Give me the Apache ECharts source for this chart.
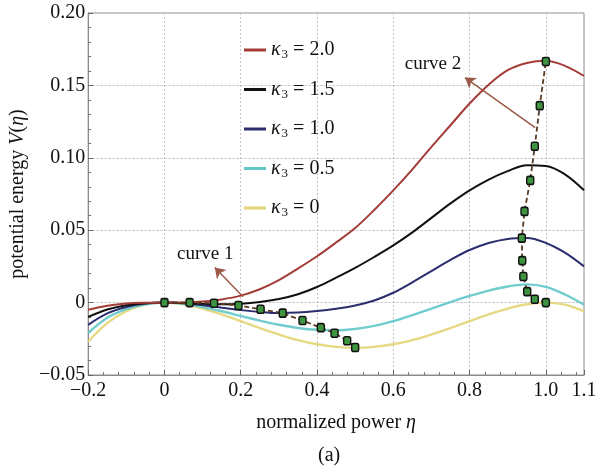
<!DOCTYPE html>
<html>
<head>
<meta charset="utf-8">
<script src="https://cdn.jsdelivr.net/npm/echarts@6/dist/echarts.min.js"></script>
<style>
html,body{margin:0;padding:0;background:#fff;}
#c{width:613px;height:473px;}
</style>
</head>
<body>
<div id="c"></div>
<script>
// ---- data ----
const eta = [-0.2,-0.15,-0.1,-0.05,0,0.05,0.1,0.15,0.2,0.25,0.3,0.35,0.4,0.45,0.5,0.55,0.6,0.65,0.7,0.75,0.8,0.85,0.9,0.95,1.0,1.05,1.1];
const kappa20 = [-0.005,-0.0022,-0.0006,-0.0001,0,0.0001,0.0007,0.0022,0.0048,0.0092,0.0155,0.0235,0.032,0.0415,0.0515,0.064,0.0775,0.092,0.1075,0.1225,0.1375,0.1505,0.1605,0.1655,0.167,0.1635,0.1565];
const kappa15 = [-0.0099,-0.0048,-0.0018,-0.0004,0,-0.0003,-0.0008,-0.0012,-0.0008,0.0004,0.0025,0.0058,0.0108,0.0172,0.024,0.0315,0.0395,0.0485,0.0585,0.0685,0.0775,0.085,0.0908,0.0948,0.0944,0.0886,0.0776];
const kappa10 = [-0.0154,-0.0075,-0.003,-0.0007,0,-0.0005,-0.0018,-0.0035,-0.0052,-0.0065,-0.0072,-0.0069,-0.0058,-0.0042,-0.002,0.0015,0.0068,0.014,0.0218,0.0295,0.0363,0.0412,0.044,0.0446,0.0412,0.0345,0.025];
const kappa05 = [-0.021,-0.0105,-0.0045,-0.0011,0,-0.0009,-0.0031,-0.006,-0.0092,-0.0124,-0.0153,-0.0175,-0.0188,-0.0191,-0.0182,-0.0161,-0.0128,-0.0086,-0.0041,0.0004,0.0046,0.0083,0.0111,0.0126,0.0109,0.0056,-0.0014];
const kappa00 = [-0.027,-0.0142,-0.006,-0.0014,0,-0.0011,-0.0041,-0.0081,-0.0128,-0.0176,-0.022,-0.0259,-0.0288,-0.0306,-0.0312,-0.0306,-0.0288,-0.0259,-0.022,-0.0176,-0.0128,-0.0081,-0.0041,-0.0011,0,-0.0014,-0.006];
const legendLabels = ['2.0','1.5','1.0','0.5','0'];

// curve 1: locus of minima, curve 2: locus of maxima
const curve1Eta = [0,0.066,0.13,0.194,0.252,0.31,0.362,0.41,0.446,0.479,0.5];
const curve1V   = [0,0,-0.0004,-0.002,-0.0046,-0.0073,-0.0124,-0.0173,-0.0212,-0.0263,-0.031];
const curve2Eta = [1.0,0.971,0.951,0.941,0.938,0.937,0.944,0.959,0.971,0.984,1.0];
const curve2V   = [0,0.0023,0.0076,0.018,0.029,0.0445,0.063,0.0844,0.108,0.136,0.1665];

// annotations (data coordinates)
const annText = ['curve 1','curve 2'];
const annEta = [0.107,0.704];
const annV = [0.0337,0.165];
const arrowFrom = [[0.206,0.0041],[0.972,0.1208]];
const arrowTo   = [[0.132,0.0242],[0.788,0.1554]];

// ---- chart ----
const FONT = "'Liberation Serif','DejaVu Serif',serif";
const colors = ['#a43d37','#111111','#2b2d6e','#62c6c9','#e3d576'];
const curves = [kappa20,kappa15,kappa10,kappa05,kappa00];

function minus(v,d){ if(Math.abs(v)<1e-9) return '0'; return (v<0?'\u2212':'')+Math.abs(v).toFixed(d); }

const series = curves.map((arr,k)=>({
  name: 'k'+legendLabels[k],
  type: 'line',
  data: eta.map((x,i)=>[x,arr[i]]),
  showSymbol: false,
  smooth: 0.35,
  lineStyle: {color: colors[k], width: k>=3 ? 2.4 : 2, opacity: k>=3?0.9:1},
  itemStyle: {color: colors[k]},
  z: 2+(4-k)
}));

const markerStyle = {
  type: 'line',
  showSymbol: true,
  symbol: 'roundRect',
  symbolSize: [7,8],
  lineStyle: {color: '#5a3b22', width: 1.8, type: [5,3]},
  itemStyle: {color: '#3f9440', borderColor: '#111', borderWidth: 1.5},
  z: 10
};
series.push(Object.assign({name:'curve1', data: curve1Eta.map((x,i)=>[x,curve1V[i]])}, markerStyle));
series.push(Object.assign({name:'curve2', data: curve2Eta.map((x,i)=>[x,curve2V[i]])}, markerStyle));

series.push({
  name: 'arrows',
  type: 'scatter',
  symbolSize: 0,
  data: [],
  markLine: {
    silent: true,
    symbol: ['none','arrow'],
    symbolSize: 10,
    label: {show:false},
    itemStyle: {color:'#9b5a45'},
    lineStyle: {color:'#9b5a45', width:1.5, type:'solid'},
    data: arrowFrom.map((f,i)=>[{coord:f},{coord:arrowTo[i]}])
  },
  z: 12
});

const chart = echarts.init(document.getElementById('c'), null, {renderer:'canvas'});
chart.setOption({
  animation: false,
  backgroundColor: '#fff',
  grid: {left: 83, right: 29, top: 13, bottom: 98, show: true, borderColor: '#8a8a8a', borderWidth: 1},
  legend: {
    orient: 'vertical',
    left: 239, top: 35,
    itemWidth: 22, itemHeight: 3,
    itemGap: 18,
    icon: 'rect',
    data: series.slice(0,5).map(s=>s.name),
    formatter: n => '{k|\u03ba}{s|3}{t| = ' + n.slice(1) + '}',
    textStyle: {
      fontFamily: FONT, color:'#111',
      rich: {
        k: {fontSize: 20, fontStyle:'italic', fontFamily: FONT},
        s: {fontSize: 13, fontFamily: FONT, padding:[10,0,0,1]},
        t: {fontSize: 20, fontFamily: FONT}
      }
    }
  },
  xAxis: {
    type: 'value', min: -0.2, max: 1.1, interval: 0.2,
    name: 'normalized power {i|\u03b7}',
    nameLocation: 'middle', nameGap: 38,
    nameTextStyle: {fontFamily: FONT, fontSize: 20, color:'#111', rich:{i:{fontStyle:'italic', fontFamily: FONT, fontSize:20}}},
    axisLine: {show:true, onZero:false, lineStyle:{color:'#8a8a8a'}},
    axisTick: {inside: true, length: 5, lineStyle:{color:'#666'}},
    minorTick: {show: true, splitNumber: 5, length: 3, lineStyle:{color:'#777'}},
    axisLabel: {fontFamily: FONT, fontSize: 20, color:'#111', margin: 6, formatter: v=>minus(v,1), showMaxLabel: true},
    splitLine: {show:true, lineStyle:{color:'#c4c4c4', type:[2,2], width:1}}
  },
  yAxis: {
    type: 'value', min: -0.05, max: 0.2, interval: 0.05,
    name: 'potential energy {i|V}({i|\u03b7})',
    nameLocation: 'middle', nameGap: 48,
    nameTextStyle: {fontFamily: FONT, fontSize: 20, color:'#111', rich:{i:{fontStyle:'italic', fontFamily: FONT, fontSize:20}}},
    axisLine: {show:true, onZero:false, lineStyle:{color:'#8a8a8a'}},
    axisTick: {inside: true, length: 5, lineStyle:{color:'#666'}},
    minorTick: {show: true, splitNumber: 5, length: 3, lineStyle:{color:'#777'}},
    axisLabel: {fontFamily: FONT, fontSize: 20, color:'#111', margin: 3, formatter: v=>minus(v,2)},
    splitLine: {show:true, lineStyle:{color:'#cfcfcf', type:[3,1], width:1.2}}
  },
  series: series
});

// annotation texts placed through the axes' own scales
const g = [{
  type: 'text', left: 318, top: 446,
  style: {text: '(a)', font: '20px ' + FONT, fill: '#111'}
}];
annText.forEach((t,i)=>{
  const p = chart.convertToPixel({gridIndex:0}, [annEta[i], annV[i]]);
  g.push({type:'text', x: p[0], y: p[1], z: 20,
    style:{text: t, font: '19px ' + FONT, fill:'#111', align:'center', verticalAlign:'middle'}});
});
chart.setOption({graphic: g});
</script>
</body>
</html>
